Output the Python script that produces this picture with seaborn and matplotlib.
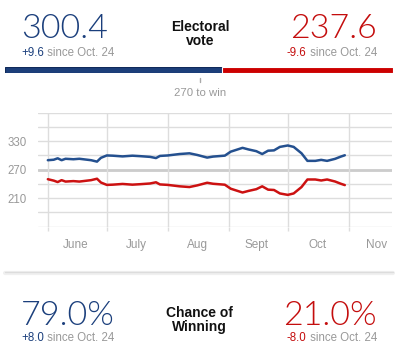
import pandas as pd
import seaborn as sns
import matplotlib
matplotlib.use('Agg')
import matplotlib.pyplot as plt
import matplotlib.transforms as mtransforms

# 数据
dates = ['2012-06-01', '2012-06-04', '2012-06-06', '2012-06-08', '2012-06-10', '2012-06-14',
         '2012-06-17', '2012-06-21', '2012-06-23', '2012-06-26', '2012-06-28', '2012-07-01',
         '2012-07-04', '2012-07-09', '2012-07-14', '2012-07-18', '2012-07-23', '2012-07-26',
         '2012-07-28', '2012-08-01', '2012-08-07', '2012-08-12', '2012-08-16', '2012-08-21',
         '2012-08-24', '2012-08-30', '2012-09-02', '2012-09-08', '2012-09-11', '2012-09-15',
         '2012-09-18', '2012-09-21', '2012-09-24', '2012-09-27', '2012-10-01', '2012-10-04',
         '2012-10-08', '2012-10-11', '2012-10-15', '2012-10-18', '2012-10-21', '2012-10-25',
         '2012-10-28', '2012-10-30']
obama = [290, 291, 294, 290, 293, 292, 293, 291, 290, 287, 295, 300,
         299.5, 298, 299.5, 298.5, 297, 294.5, 299, 300, 303, 304.5, 301, 295.5,
         297.6, 299.6, 308, 316, 312.7, 309, 303, 310, 310.7, 318, 321, 318,
         304.5, 288.6, 288.6, 290.7, 288.6, 292.8, 297.6, 300.4]
romney = [250, 247, 244, 248, 245, 246, 245, 247, 248, 251, 243, 238,
          238.5, 240, 238.5, 239.5, 241, 243.5, 239, 238, 235, 233.5, 237, 242.5,
          240.4, 238.4, 230, 222, 225.3, 229, 235, 228, 227.3, 220, 217, 220,
          233.5, 249.4, 249.4, 247.3, 249.4, 245.2, 240.4, 237.6]
month_starts = ['2012-06-01', '2012-07-01', '2012-08-01', '2012-09-01', '2012-10-01', '2012-11-01']
month_mids = ['2012-06-15', '2012-07-16', '2012-08-16', '2012-09-15', '2012-10-16', '2012-11-15']
month_labels = ['June', 'July', 'Aug', 'Sept', 'Oct', 'Nov']
y_labeled = [210, 270, 330]
ev_now = {'Obama': 300.4, 'Romney': 237.6}
ev_change = {'Obama': '+9.6', 'Romney': '-9.6'}
win_now = {'Obama': 79.0, 'Romney': 21.0}
win_change = {'Obama': '+8.0', 'Romney': '-8.0'}
to_win = 270

BLUE = '#1b3f7c'
RED = '#c40d0d'
GRAY = '#999999'

sns.set_theme(style='white')
plt.rcParams['font.family'] = ['Liberation Sans', 'DejaVu Sans']

df = pd.DataFrame({
    'date': pd.to_datetime(dates * 2),
    'ev': obama + romney,
    'party': ['Obama'] * len(obama) + ['Romney'] * len(romney),
})

W, H = 400, 352
fig = plt.figure(figsize=(4, 3.52), dpi=100)
fig.patch.set_facecolor('white')


def fx(px):
    return px / W


def fy(py):
    return 1 - py / H


# 选举人票条
total = sum(ev_now.values())
ax_bar = fig.add_axes([fx(5), fy(73.3), fx(388), 6.6 / H])
ax_bar.barh(0, ev_now['Obama'], height=1, color='#1c3f7a', edgecolor='#102a5a', linewidth=0.8)
ax_bar.barh(0, ev_now['Romney'], left=ev_now['Obama'], height=1, color='#cc0000',
            edgecolor='white', linewidth=0.8)
ax_bar.set_xlim(0, total)
ax_bar.set_ylim(-0.5, 0.5)
ax_bar.axis('off')
tr = mtransforms.blended_transform_factory(ax_bar.transData, fig.transFigure)
ax_bar.plot([to_win, to_win], [fy(77.5), fy(81.5)], color='#aaaaaa', lw=1,
            transform=tr, clip_on=False)
ax_bar.text(to_win, fy(96), f'{to_win} to win', transform=tr, ha='center', va='baseline',
            fontsize=8.2, color=GRAY)

# 主图
ax = fig.add_axes([fx(38), fy(226.7), fx(354), 114 / H])
sns.lineplot(data=df, x='date', y='ev', hue='party', palette={'Obama': '#24508f', 'Romney': '#cc1111'},
             legend=False, lw=1.8, ax=ax, zorder=3)
ax.set_xlim(pd.Timestamp('2012-05-27'), pd.Timestamp('2012-11-23'))
ax.set_ylim(150, 390)
ax.set_yticks(range(150, 391, 30))
ax.set_yticklabels([str(v) if v in y_labeled else '' for v in range(150, 391, 30)])
ax.grid(axis='y', color='#dddddd', lw=1)
ax.axhline(to_win, color='#cccccc', lw=2, zorder=1)
ax.set_xticks(pd.to_datetime(month_starts))
ax.set_xticklabels([])
ax.set_xticks(pd.to_datetime(month_mids), minor=True)
ax.set_xticklabels(month_labels, minor=True)
for d in pd.to_datetime(month_starts):
    ax.axvline(d, color='#dddddd', lw=1, zorder=1)
ax.tick_params(axis='x', which='major', length=3, color='#dddddd', width=1, bottom=True)
ax.tick_params(axis='x', which='minor', length=0, pad=9, labelsize=8.5, labelcolor=GRAY)
ax.tick_params(axis='y', length=0, pad=8, labelsize=8.3, labelcolor=GRAY)
ax.set_xlabel('')
ax.set_ylabel('')
for s in ax.spines.values():
    s.set_visible(False)

# 分隔线
fig.add_artist(plt.Line2D([fx(5), fx(393)], [fy(273), fy(273)], color='#f0f0f0', lw=3))
fig.add_artist(plt.Line2D([fx(5), fx(393)], [fy(271.5), fy(271.5)], color='#dcdcdc', lw=1))


def pair_text(y_small, changes):
    t1 = fig.text(fx(21), fy(y_small), changes['Obama'], fontsize=8.3, color=BLUE,
                  ha='left', va='bottom')
    plt.annotate(' since Oct. 24', xy=(1, 0), xycoords=t1, fontsize=8.3, color=GRAY,
                 ha='left', va='bottom', annotation_clip=False)
    t2 = fig.text(fx(377), fy(y_small), ' since Oct. 24', fontsize=8.3, color=GRAY,
                  ha='right', va='bottom')
    plt.annotate(changes['Romney'], xy=(0, 0), xycoords=t2, fontsize=8.3, color=RED,
                 ha='right', va='bottom', annotation_clip=False)


big_font = dict(fontsize=24.5, va='baseline', family=['Lato', 'Liberation Sans'], fontweight=300)
fig.text(fx(21), fy(38), f"{ev_now['Obama']:.1f}", color=BLUE, ha='left', **big_font)
fig.text(fx(377), fy(38), f"{ev_now['Romney']:.1f}", color=RED, ha='right', **big_font)
fig.text(fx(21), fy(325), f"{win_now['Obama']:.1f}%", color=BLUE, ha='left', **big_font)
fig.text(fx(377), fy(325), f"{win_now['Romney']:.1f}%", color=RED, ha='right', **big_font)
pair_text(59.5, ev_change)
pair_text(344, win_change)

fig.text(fx(200), fy(30.7), 'Electoral', fontsize=10, fontweight='bold', color='#111111',
         ha='center', va='baseline')
fig.text(fx(200), fy(45), 'vote', fontsize=10, fontweight='bold', color='#111111',
         ha='center', va='baseline')
fig.text(fx(199), fy(316.7), 'Chance of', fontsize=10, fontweight='bold', color='#111111',
         ha='center', va='baseline')
fig.text(fx(199), fy(331), 'Winning', fontsize=10, fontweight='bold', color='#111111',
         ha='center', va='baseline')

fig.savefig('out.png', dpi=100, facecolor='white')
